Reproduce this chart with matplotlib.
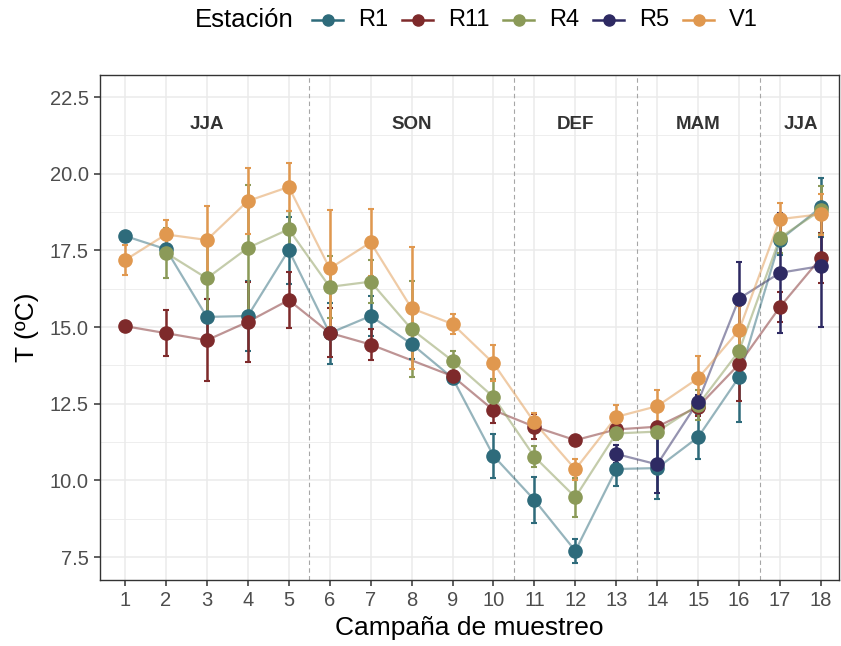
import numpy as np
import matplotlib
matplotlib.use('Agg')
import matplotlib.pyplot as plt
from matplotlib.lines import Line2D

plt.rcParams['font.family'] = ['Liberation Sans', 'DejaVu Sans']

campanas = np.arange(1, 19)
estaciones = ['R1', 'R11', 'R4', 'R5', 'V1']
colores = {'R1': '#2E6B7B', 'R11': '#7E2A2B', 'R4': '#8B9A58', 'R5': '#2E2A63', 'V1': '#E0984F'}

nan = np.nan
# mean temperature per campaign
temp = {
    'R1':  [17.97, 17.54, 15.33, 15.36, 17.51, 14.80, 15.36, 14.45, 13.34, 10.80, 9.36, 7.70,
            10.37, 10.40, 11.41, 13.37, 17.84, 18.91],
    'R11': [15.03, 14.80, 14.57, 15.17, 15.88, 14.81, 14.43, nan, 13.40, 12.29, 11.75, 11.31,
            11.66, 11.75, 12.40, 13.79, 15.66, 17.26],
    'R4':  [nan, 17.42, 16.59, 17.58, 18.19, 16.31, 16.48, 14.93, 13.90, 12.72, 10.77, 9.45,
            11.53, 11.59, 12.46, 14.22, 17.92, 18.81],
    'R5':  [nan, nan, nan, nan, nan, nan, nan, nan, nan, nan, nan, nan,
            10.86, 10.52, 12.57, 15.93, 16.77, 16.99],
    'V1':  [17.18, 18.02, 17.84, 19.11, 19.57, 16.91, 17.76, 15.61, 15.10, 13.82, 11.89, 10.36,
            12.07, 12.42, 13.33, 14.90, 18.52, 18.68],
}
# standard deviation per campaign
sd = {
    'R1':  [0.10, 0.30, 0.60, 1.14, 1.09, 1.00, 0.65, 0.50, 0.15, 0.71, 0.76, 0.39,
            0.55, 1.00, 0.71, 1.47, 0.50, 0.96],
    'R11': [0.10, 0.76, 1.33, 1.30, 0.92, 0.80, 0.51, nan, 0.15, 0.43, 0.41, 0.10,
            0.10, 0.15, 0.30, 1.20, 0.49, 0.82],
    'R4':  [nan, 0.82, 1.40, 2.05, 0.58, 1.00, 0.70, 1.57, 0.32, 0.58, 0.35, 0.63,
            0.20, 0.20, 0.50, 0.60, 0.50, 0.79],
    'R5':  [nan, nan, nan, nan, nan, nan, nan, nan, nan, nan, nan, nan,
            0.30, 0.92, 0.20, 1.20, 1.96, 2.00],
    'V1':  [0.49, 0.47, 1.12, 1.07, 0.79, 1.90, 1.08, 1.99, 0.34, 0.58, 0.30, 0.35,
            0.40, 0.54, 0.71, 0.80, 0.54, 0.67],
}

estaciones_anio = ['JJA', 'SON', 'DEF', 'MAM', 'JJA']
pos_estacion = [3, 8, 12, 15, 17.5]
cortes = [5.5, 10.5, 13.5, 16.5]

W, H = 841, 646
fig = plt.figure(figsize=(W / 100, H / 100), dpi=100)
ax = fig.add_axes([100 / W, 1 - 580 / H, 739 / W, 505 / H])

for e in estaciones:
    y = np.array(temp[e])
    s = np.array(sd[e])
    m = ~np.isnan(y)
    c = colores[e]
    ax.plot(campanas[m], y[m], color=c, alpha=0.5, lw=1.6, zorder=2)
    ax.errorbar(campanas[m], y[m], yerr=s[m], fmt='none', ecolor=c, elinewidth=1.8,
                capsize=2.5, capthick=1.5, zorder=3)
    ax.plot(campanas[m], y[m], 'o', color=c, ms=9.5, zorder=4)

for xv in cortes:
    ax.axvline(xv, color='#A6A6A6', ls=(0, (4, 3)), lw=0.8, zorder=1)
for lab, xp in zip(estaciones_anio, pos_estacion):
    ax.text(xp, 21.6, lab, ha='center', va='center', fontsize=13.5,
            fontweight='bold', color='#333333')

ax.set_xlim(0.39, 18.44)
ax.set_ylim(6.75, 23.22)
ax.set_xticks(campanas)
ax.set_yticks([7.5, 10.0, 12.5, 15.0, 17.5, 20.0, 22.5])
ax.set_yticklabels(['7.5', '10.0', '12.5', '15.0', '17.5', '20.0', '22.5'])
ax.set_yticks(np.arange(8.75, 23, 2.5), minor=True)
ax.grid(True, which='major', color='#EBEBEB', lw=1.1, zorder=0)
ax.grid(True, which='minor', axis='y', color='#EBEBEB', lw=0.6, zorder=0)
ax.set_axisbelow(True)
ax.tick_params(which='major', labelsize=14.5, labelcolor='#4D4D4D', color='#333333',
               length=4, width=1.1, pad=4)
ax.tick_params(which='minor', length=0)
for sp in ax.spines.values():
    sp.set_color('#333333')
    sp.set_linewidth(1.0)

ax.set_xlabel('Campaña de muestreo', fontsize=19, labelpad=4)
ax.set_ylabel('T (ºC)', fontsize=19, labelpad=8)

# legend drawn by hand in pixel positions, ggplot style (title inline at left)
ly = 1 - 20 / H
fig.text(195 / W, ly, 'Estación', fontsize=18.5, ha='left', va='center')
key_x = [312, 402, 503, 593, 683]
for e, kx in zip(estaciones, key_x):
    c = colores[e]
    fig.add_artist(Line2D([kx / W, (kx + 31) / W], [ly, ly], color=c, lw=1.8,
                          transform=fig.transFigure))
    fig.add_artist(Line2D([(kx + 15.5) / W], [ly], color=c, marker='o', ms=8,
                          lw=0, transform=fig.transFigure))
    fig.text((kx + 46) / W, ly, e, fontsize=17, ha='left', va='center')

fig.savefig('out.png', dpi=100)
